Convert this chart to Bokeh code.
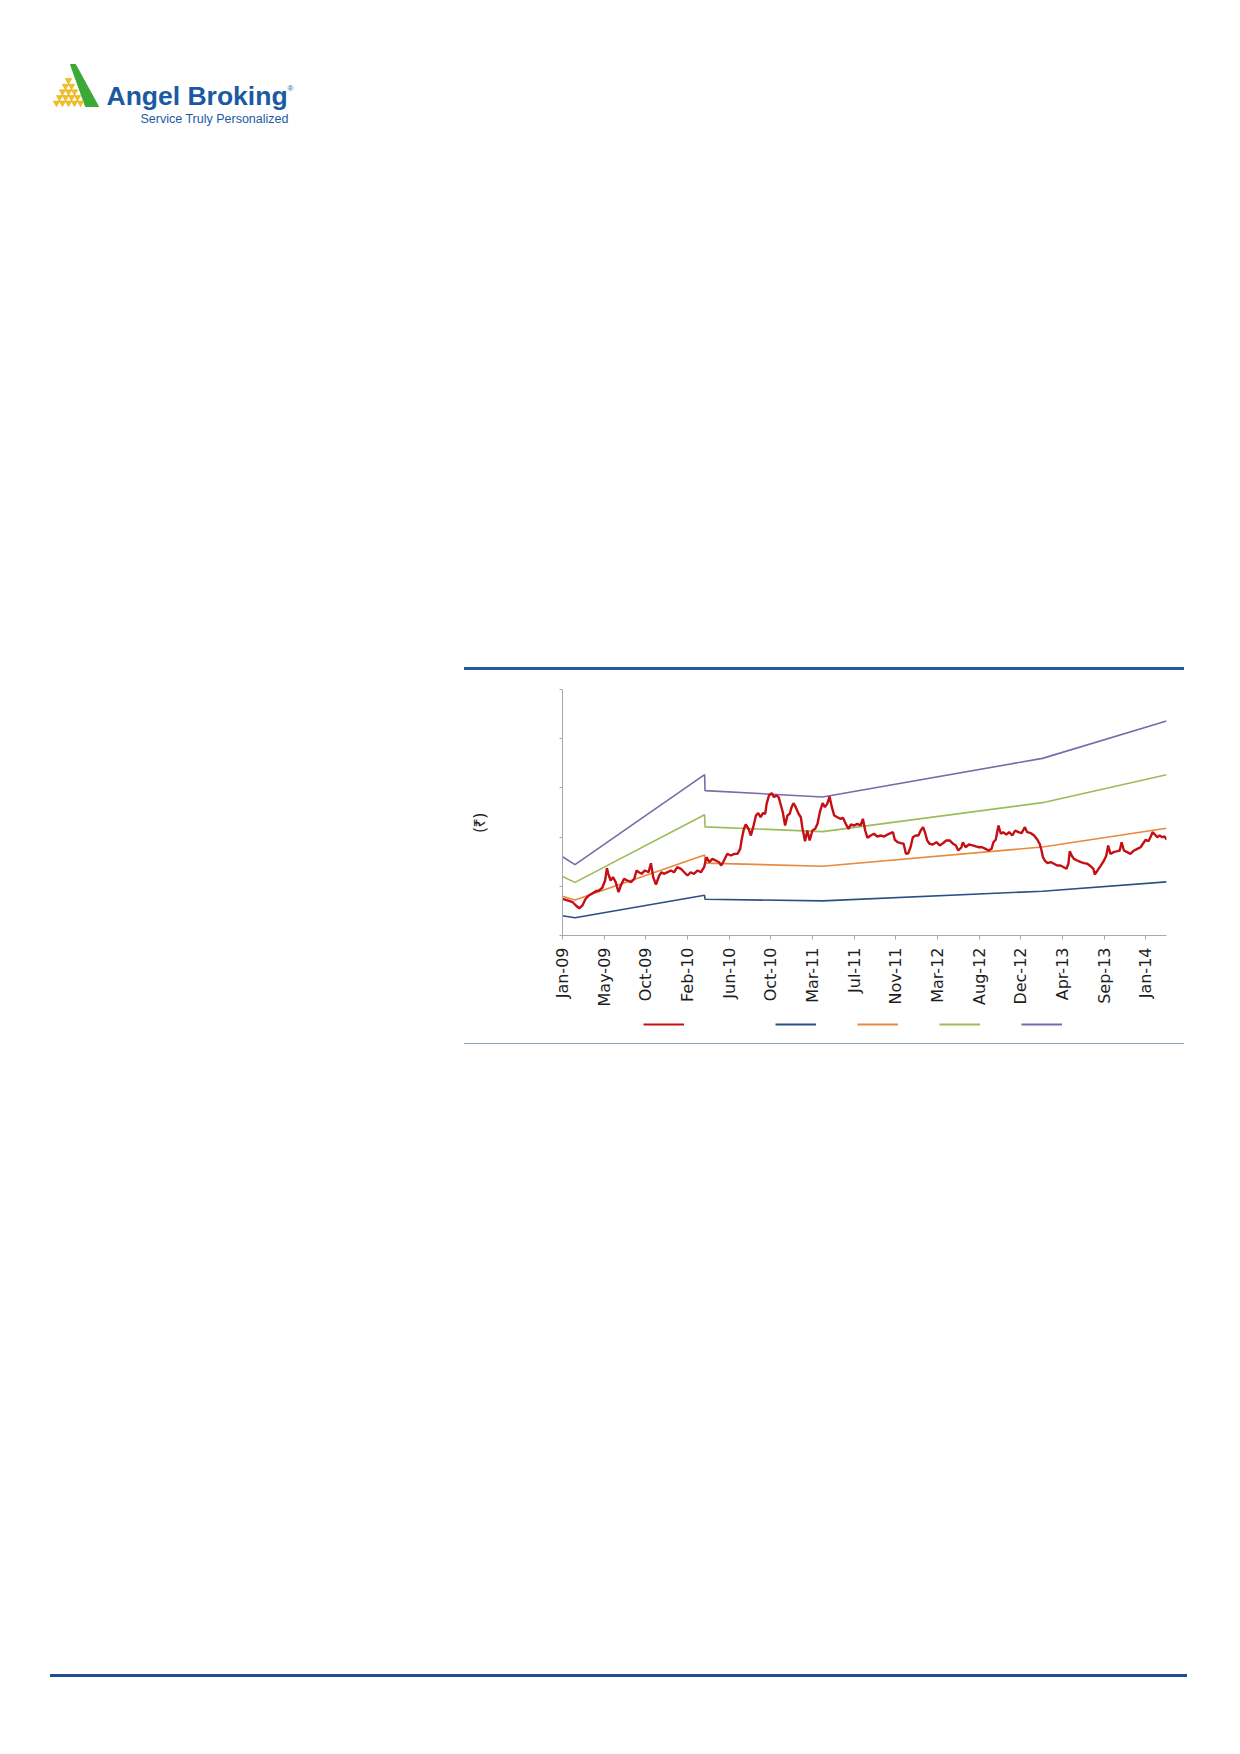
import math
from bokeh.plotting import figure
from bokeh.models import Range1d, FixedTicker, Legend, LegendItem, Div, Spacer
from bokeh.layouts import column, row
from bokeh.core.properties import value
from bokeh.embed import file_html
from bokeh.resources import INLINE

# ---------------- data ----------------
TICK_LABELS = ["Jan-09", "May-09", "Oct-09", "Feb-10", "Jun-10", "Oct-10", "Mar-11",
               "Jul-11", "Nov-11", "Mar-12", "Aug-12", "Dec-12", "Apr-13", "Sep-13", "Jan-14"]
TICK_STEP = 90          # trading days between axis labels
LAST_DAY = 1305         # last trading-day index

PRICE_DAY = [0, 11, 22, 29, 36, 43, 50, 57, 65, 72, 79, 86, 92, 96, 99, 104, 109, 115, 121, 126,
             133, 140, 148, 155, 160, 165, 171, 178, 186, 191, 196, 202, 209, 214, 219, 227, 234, 241, 248, 256,
             263, 270, 277, 284, 292, 299, 306, 311, 317,
             324, 331, 338, 343, 349, 356, 364, 371, 378, 384, 387, 392, 396, 402, 407, 412, 418, 423, 428, 433,
             438, 441, 446, 452, 457, 462, 467, 472, 476, 481, 486, 491, 495, 499, 504, 510, 515, 518, 524, 529,
             534, 540, 546, 551, 556, 562, 567, 572, 577, 582, 587, 594, 601, 606, 612, 618, 623, 630, 637, 644,
             649, 654, 659, 666, 673, 680, 688, 695, 702, 709, 714, 718, 724, 731, 737, 742, 747, 752, 757, 763,
             769, 774, 779, 783, 788, 793, 800, 808, 815, 822, 829, 837, 844, 850, 855, 862, 865, 871, 878, 886,
             893, 900, 907, 914, 921, 927, 931, 936, 942, 947, 952, 959, 965, 972, 978, 985, 992, 999, 1004, 1012,
             1019, 1026, 1031, 1035, 1038, 1042, 1048, 1055, 1062, 1069, 1076, 1083, 1089, 1093, 1096, 1100, 1105,
             1112, 1120, 1127, 1134, 1142, 1147, 1150, 1156, 1163, 1170, 1175, 1179, 1184, 1191, 1199, 1204, 1208,
             1213, 1220, 1227, 1235, 1242, 1249, 1254, 1260, 1266, 1271, 1275, 1280, 1285, 1290, 1296, 1301, 1305]

PRICE = [37.3, 35.6, 33.8, 30.5, 27.7, 30.5, 37.3, 40.7, 43.0, 45.0, 45.7, 48.5, 55.9, 68.4, 62.7, 55.9, 59.3,
         54.2, 44.0, 50.8, 57.6, 55.9, 54.2, 57.6, 66.1, 64.3, 62.7, 66.1, 64.3, 73.5, 59.3, 51.8, 61.0, 64.3,
         62.7, 64.3, 66.1, 64.3, 69.4, 67.8, 64.3, 61.0, 64.3, 62.7, 66.1, 64.3, 69.4, 79.6, 74.5,
         77.9, 76.2, 74.5, 71.1, 76.2, 83.0, 81.3, 83.0, 83.0, 88.1, 97.3, 108.4, 112.8, 108.4, 101.6, 110.1,
         122.0, 124.3, 120.2, 124.3, 123.7, 133.8, 142.3, 144.6, 140.6, 142.3, 140.6, 132.1, 125.3, 111.8, 122.0,
         123.7, 130.4, 134.5, 130.4, 123.7, 120.2, 110.1, 95.8, 106.7, 96.5, 106.7, 108.4, 113.5, 125.3, 134.5,
         130.4, 133.8, 141.3, 130.4, 122.0, 120.2, 118.6, 119.6, 113.5, 108.4, 112.8, 111.8, 113.5, 111.8,
         118.6, 106.7, 99.3, 101.6, 103.4, 100.6, 101.6, 100.6, 102.6, 104.0, 105.0, 97.3, 94.8, 93.8, 93.2,
         83.0, 83.6, 89.7, 99.9, 101.6, 101.6, 106.7, 110.1, 105.0, 96.5, 93.2, 92.5, 94.8, 91.5, 93.8, 96.5,
         96.5, 93.2, 91.5, 86.4, 89.7, 94.8, 89.7, 92.5, 91.5, 90.5, 89.7, 89.7, 88.1, 86.4, 88.1, 94.8, 97.3,
         111.8, 103.4, 105.0, 102.6, 105.0, 101.6, 106.7, 105.0, 104.0, 110.1, 105.0, 104.0, 101.6, 97.3, 93.2,
         86.4, 79.6, 76.2, 73.5, 74.5, 72.9, 71.1, 71.1, 69.4, 67.8, 72.9, 85.7, 81.3, 77.9, 76.2, 74.5, 73.5,
         72.9, 70.1, 67.8, 62.0, 66.1, 71.1, 76.2, 81.3, 91.5, 83.0, 84.7, 85.7, 86.4, 94.8, 86.4, 84.7, 83.0,
         86.4, 88.1, 89.7, 93.2, 97.3, 95.8, 100.6, 105.0, 102.6, 99.9, 101.6, 99.9, 100.6, 97.3]

BAND_DAY = [0, 27, 307, 308, 562, 1037, 1305]
EPS = [5.0, 4.5, 10.22, 9.2, 8.8, 11.25, 13.62]
MULTIPLES = [4, 8, 12, 16]
Y_TICKS = [0, 50, 100, 150, 200, 250]

PRICE_COLOR = "#C40F14"
BAND_COLORS = ["#2B5086", "#E8893C", "#9CBB59", "#7D68A8"]
AXIS_COLOR = "#A8A8A8"
BRAND_BLUE = "#1B5AA3"

band_values = [[e * m for e in EPS] for m in MULTIPLES]

# ---------------- chart ----------------
p = figure(width=720, height=344, x_range=Range1d(0, LAST_DAY), y_range=Range1d(0, 250),
           output_backend="svg", toolbar_location=None,
           min_border_left=98, min_border_right=18, min_border_top=19, min_border_bottom=79)
p.xgrid.visible = False
p.ygrid.visible = False
p.outline_line_color = None

for vals, c in zip(band_values, BAND_COLORS):
    p.line(BAND_DAY, vals, line_color=c, line_width=1.6)
p.line(PRICE_DAY, PRICE, line_color=PRICE_COLOR, line_width=2.4)

xt = [i * TICK_STEP for i in range(len(TICK_LABELS))]
xa = p.xaxis[0]
xa.ticker = FixedTicker(ticks=xt)
xa.major_label_overrides = {t: lab for t, lab in zip(xt, TICK_LABELS)}
xa.major_label_orientation = math.pi / 2
xa.axis_line_color = AXIS_COLOR
xa.major_tick_line_color = AXIS_COLOR
xa.major_tick_out = 4
xa.major_tick_in = 0
xa.minor_tick_line_color = None
xa.major_label_standoff = 8
xa.major_label_text_font = "DejaVu Sans"
xa.major_label_text_font_size = "16px"
xa.major_label_text_color = "#1E1E1E"

ya = p.yaxis[0]
ya.ticker = FixedTicker(ticks=Y_TICKS)
ya.major_label_overrides = {t: "" for t in Y_TICKS}
ya.axis_line_color = AXIS_COLOR
ya.major_tick_line_color = AXIS_COLOR
ya.major_tick_out = 3
ya.major_tick_in = 0
ya.minor_tick_line_color = None
ya.major_label_standoff = 0
ya.axis_label = "(₹)" + "\u00a0" * 5
ya.axis_label_text_font = "Noto Sans"
ya.axis_label_text_font_size = "16px"
ya.axis_label_text_font_style = "normal"
ya.axis_label_text_color = "#1E1E1E"
ya.axis_label_standoff = 70

# ---------------- legend strip (same series, keys only) ----------------
lg = figure(width=720, height=29, x_range=Range1d(0, LAST_DAY), y_range=Range1d(-1000, -900),
            output_backend="svg", toolbar_location=None, min_border=0)
lg.axis.visible = False
lg.grid.visible = False
lg.outline_line_color = None
band_keys = [lg.line(BAND_DAY, vals, line_color=c, line_width=2) for vals, c in zip(band_values, BAND_COLORS)]
price_key = lg.line(PRICE_DAY, PRICE, line_color=PRICE_COLOR, line_width=2)

common = dict(orientation="horizontal", glyph_width=41, glyph_height=8, label_height=8,
              label_standoff=0, padding=0, margin=0, spacing=0, border_line_color=None,
              background_fill_alpha=0, label_text_font_size="8px")
lg.add_layout(Legend(items=[LegendItem(label=" ", renderers=[price_key])], location=(81, 15),
                     label_width=0, **common))
lg.add_layout(Legend(items=[LegendItem(label=" ", renderers=[r]) for r in band_keys],
                     location=(213, 15), label_width=41, **common))

# ---------------- logo (page decoration) ----------------
logo = figure(width=1224, height=140, x_range=Range1d(0, 1224), y_range=Range1d(140, 0),
              output_backend="svg", toolbar_location=None, min_border=0)
logo.axis.visible = False
logo.grid.visible = False
logo.outline_line_color = None
logo.patch([70, 75, 98, 85], [64, 64, 106, 106], fill_color="#3BA935", line_color="#3BA935")
tx, ty = [], []
for r in range(5):
    for k in range(r + 1):
        tx.append(68 - r * 3 + k * 6)
        ty.append(80 + r * 5.6)
logo.scatter(tx, ty, marker="inverted_triangle", size=6.5, fill_color="#F2C21B",
             line_color="#E0A315", line_width=0.5)
logo.text([106], [95], text=["Angel Broking"], text_font=value("Liberation Sans"),
          text_font_style="bold", text_font_size="26.5px", text_color=BRAND_BLUE,
          text_baseline="alphabetic")
logo.text([287], [88], text=["®"], text_font=value("Liberation Sans"),
          text_font_size="8px", text_color=BRAND_BLUE, text_baseline="alphabetic")
logo.text([140], [118.5], text=["Service Truly Personalized"], text_font=value("Liberation Sans"),
          text_font_size="12.5px", text_color=BRAND_BLUE, text_baseline="alphabetic")

# ---------------- page layout ----------------
def rule(w, h, color):
    return Div(text="", width=w, height=h, margin=0, styles={"background-color": color})

chart_block = column(rule(720, 3, "#2659A1"), p, lg, rule(720, 1, "#8FA2B2"), spacing=0, margin=0)
page = column(
    logo,
    Spacer(width=10, height=667 - 140, margin=0),
    row(Spacer(width=464, height=10, margin=0), chart_block, spacing=0, margin=0),
    Spacer(width=10, height=1674 - 1044, margin=0),
    row(Spacer(width=50, height=3, margin=0), rule(1137, 3, "#1F4E96"), spacing=0, margin=0),
    spacing=0, margin=0,
)

open("out.html", "w").write(file_html(page, INLINE))
